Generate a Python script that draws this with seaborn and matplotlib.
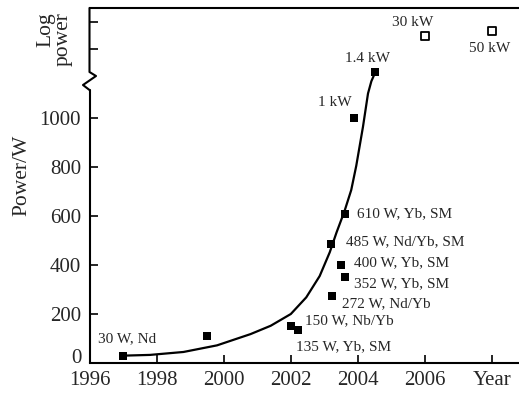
import matplotlib
matplotlib.use("Agg")
import matplotlib.pyplot as plt
import numpy as np
import pandas as pd
import seaborn as sns

# measured laser results (filled squares)
years = [1997.0, 1999.5, 2002.0, 2002.2, 2003.23, 2003.6, 2003.5, 2003.2, 2003.6, 2003.88, 2004.52]
powers = [30, 110, 150, 135, 272, 352, 400, 485, 610, 1000, 1400]
labels = ["30 W, Nd", "", "150 W, Nb/Yb", "135 W, Yb, SM", "272 W, Nd/Yb", "352 W, Yb, SM",
          "400 W, Yb, SM", "485 W, Nd/Yb, SM", "610 W, Yb, SM", "1 kW", "1.4 kW"]
# label offsets (points) and alignment
offsets = [(3, 12), (0, 0), (10, 4), (-1, -12), (7, -5), (7, -5), (9, 2), (11, 1.5), (9, 0), (-14, 11), (-6, 9.5)]
aligns = ["center", "left", "left", "left", "left", "left", "left", "left", "left", "center", "center"]

# projected results (open squares)
proj_years = [2006.0, 2008.0]
proj_powers = [30000, 50000]
proj_labels = ["30 kW", "50 kW"]
proj_offsets = [(-9, 10), (-2, -13)]

# trend curve
curve_years = [1997.0, 1997.8, 1998.8, 1999.8, 2000.8, 2001.4, 2002.0, 2002.46, 2002.86,
               2003.16, 2003.36, 2003.6, 2003.8, 2003.95, 2004.15, 2004.3, 2004.4, 2004.52]
curve_powers = [30, 33, 45, 72, 118, 152, 200, 268, 355,
                452, 532, 620, 706, 805, 964, 1100, 1150, 1400]

xticks = [1996, 1998, 2000, 2002, 2004, 2006, 2008]
xticklabels = ["1996", "1998", "2000", "2002", "2004", "2006", "Year"]
yticks = [0, 200, 400, 600, 800, 1000, 1e4, 1e5]
yticklabels = ["0", "200", "400", "600", "800", "1000", "", ""]

# broken axis: linear up to BREAK, log above it
BREAK, GAP, DEC = 1155.0, 23.7, 109.0


def fwd(p):
    p = np.asarray(p, dtype=float)
    hi = BREAK + GAP + DEC * np.log10(np.maximum(p, BREAK) / BREAK)
    return np.where(p <= BREAK, p, hi)


def inv(u):
    u = np.asarray(u, dtype=float)
    hi = BREAK * 10 ** ((np.maximum(u, BREAK + GAP) - BREAK - GAP) / DEC)
    return np.where(u <= BREAK, u, np.where(u < BREAK + GAP, BREAK, hi))


sns.set_style("ticks")
plt.rcParams["font.family"] = ["Liberation Serif", "DejaVu Serif"]

fig = plt.figure(figsize=(5.19, 3.94), dpi=100)
ax = fig.add_axes([89.5 / 519, 31 / 394, 429.5 / 519, 355 / 394])

pts = pd.DataFrame({"year": years, "power": powers})
proj = pd.DataFrame({"year": proj_years, "power": proj_powers})
curve = pd.DataFrame({"year": curve_years, "power": curve_powers})

sns.lineplot(data=curve, x="year", y="power", ax=ax, color="black", lw=1.6, sort=False)
sns.scatterplot(data=pts, x="year", y="power", ax=ax, marker="s", s=34, color="black",
                edgecolor="black", linewidth=0, zorder=3)
sns.scatterplot(data=proj, x="year", y="power", ax=ax, marker="s", s=30, facecolor="white",
                edgecolor="black", linewidth=1.3, zorder=3)

ax.set_yscale("function", functions=(fwd, inv))
ax.set_xlim(1996, 2008.8)
ax.set_ylim(0, float(inv(1449)))

for x, y, t, off, ha in zip(years, powers, labels, offsets, aligns):
    if t:
        ax.annotate(t, (x, y), xytext=off, textcoords="offset points", ha=ha, va="center", fontsize=11)
for x, y, t, off in zip(proj_years, proj_powers, proj_labels, proj_offsets):
    ax.annotate(t, (x, y), xytext=off, textcoords="offset points", ha="center", va="center", fontsize=11)

ax.set_xticks(xticks)
ax.set_xticklabels(xticklabels)
ax.set_yticks(yticks)
ax.set_yticklabels(yticklabels)
ax.minorticks_off()
ax.tick_params(direction="in", length=6, width=1.2, labelsize=15, color="black")
ax.tick_params(axis="y", pad=6)
ax.tick_params(axis="x", pad=6)
ax.get_yticklabels()[0].set_va("baseline")  # lift the "0" a little off the year labels
ax.set_xlabel("")
ax.set_ylabel("")

for s in ["top", "bottom"]:
    ax.spines[s].set_linewidth(1.5)
    ax.spines[s].set_color("black")
ax.spines["right"].set_visible(False)
ax.spines["left"].set_visible(False)


# left spine with zig-zag break
def ya(p):
    return (363 - p) / 355


def xa(p):
    return (p - 89.5) / 429.5


ax.plot([0, 0], [0, ya(90)], transform=ax.transAxes, color="black", lw=1.5, clip_on=False)
ax.plot([0, xa(83), xa(96), 0, 0], [ya(90), ya(85), ya(76), ya(72), 1],
        transform=ax.transAxes, color="black", lw=1.5, clip_on=False)

fig.text(22 / 519, 1 - 175 / 394, "Power/W", rotation=90, ha="center", va="center", fontsize=15.5)
fig.text(54.5 / 519, 1 - 39.5 / 394, "Log\npower", rotation=90, ha="center", va="center",
         multialignment="right", fontsize=15.5, linespacing=0.9)

fig.savefig("out.png", dpi=100)
